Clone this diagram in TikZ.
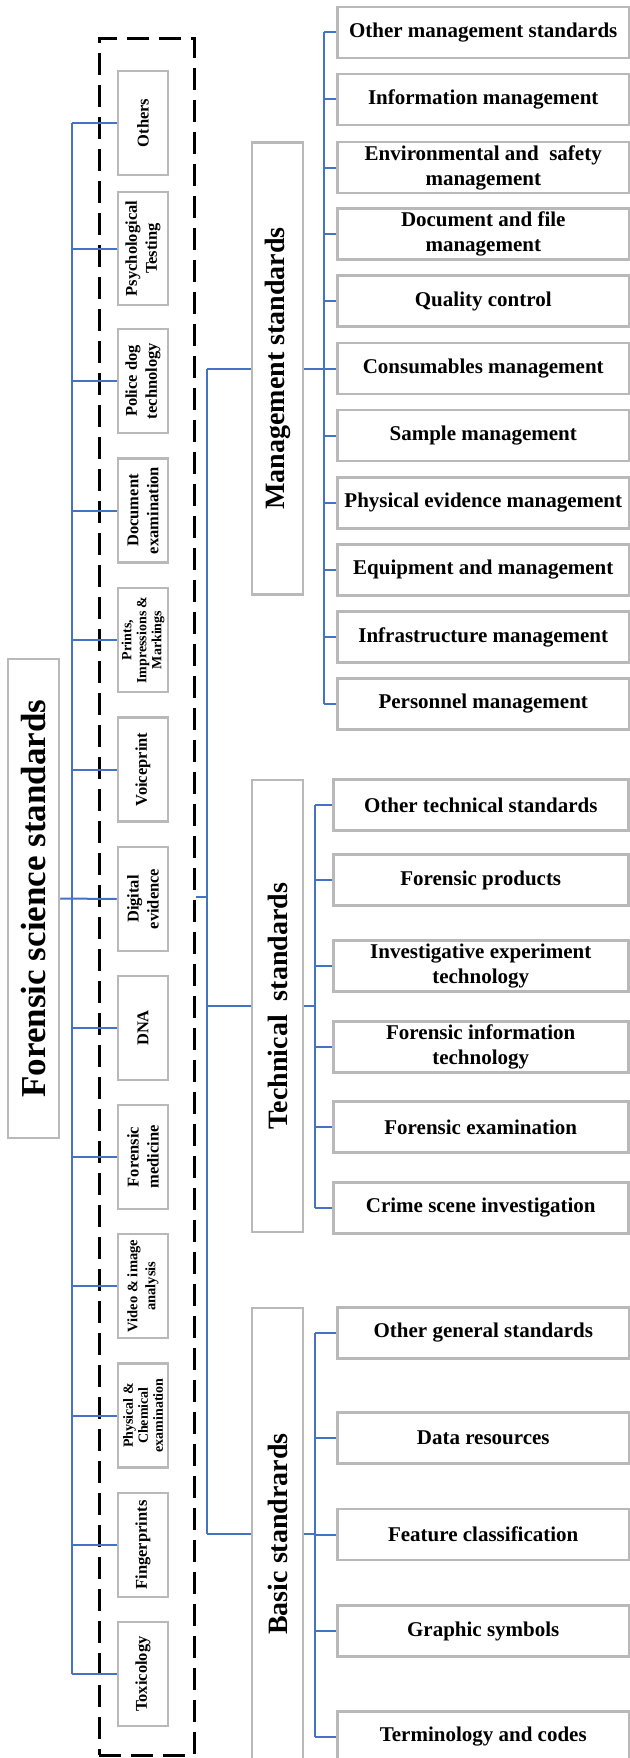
\documentclass[tikz,border=0pt]{standalone}
\usepackage{fontspec}
\setmainfont{Liberation Serif}
\definecolor{linkblue}{RGB}{68,114,196}
\definecolor{boxgray}{RGB}{185,185,185}
\begin{document}
\begin{tikzpicture}[x=1pt,y=-1pt,
  box/.style={draw=boxgray, line width=2.5pt, fill=white, inner sep=0pt, align=center},
  vbox/.style={box, rotate=90},
  leftbox/.style={vbox, minimum width=104pt, minimum height=50pt, font=\fontsize{16.5}{20}\selectfont\bfseries},
  smallleft/.style={leftbox, font=\fontsize{14}{15}\selectfont\bfseries},
  midbox/.style={vbox, minimum width=452pt, minimum height=51pt, font=\fontsize{28}{32}\selectfont\bfseries},
  rbox/.style={box, anchor=west, minimum width=292pt, minimum height=51pt, font=\fontsize{21}{25}\selectfont\bfseries},
  tbox/.style={rbox, minimum width=295pt},
  link/.style={draw=linkblue, line width=2pt},
  groupbox/.style={draw=black, line width=3pt, dash pattern=on 22pt off 10pt, inner sep=0pt},
]
\useasboundingbox (0,0) rectangle (629,1758);

% root
\node[vbox, minimum width=479pt, minimum height=51pt, font=\fontsize{35}{40}\selectfont\bfseries] (root) at (33.5,898.5) {Forensic science standards};

% dashed group
\node[groupbox, minimum width=95pt, minimum height=1716pt] (group) at (146.5,897) {};

% left column
\node[leftbox] (others) at (143,123) {Others};
\node[leftbox, minimum width=113pt] (psych) at (143,248.5) {Psychological\\Testing};
\node[leftbox] (police) at (143,381) {Police dog\\technology};
\node[leftbox] (docex) at (143,510.5) {Document\\examination};
\node[smallleft] (prints) at (143,640) {Prints,\\Impressions \&\\Markings};
\node[leftbox] (voice) at (143,769.5) {Voiceprint};
\node[leftbox] (digital) at (143,899) {Digital\\evidence};
\node[leftbox] (dna) at (143,1028) {DNA};
\node[leftbox] (fmed) at (143,1157) {Forensic\\medicine};
\node[leftbox, font=\fontsize{14.5}{18}\selectfont\bfseries] (video) at (143,1286) {Video \& image\\analysis};
\node[smallleft] (physchem) at (143,1415.5) {Physical \&\\Chemical\\examination};
\node[leftbox] (finger) at (143,1545) {Fingerprints};
\node[leftbox] (toxic) at (143,1674) {Toxicology};

\coordinate (lbus) at (72,0);
\draw[link] (others.north -| lbus) -- (toxic.north -| lbus);
\foreach \n in {others,psych,police,docex,prints,voice,fmed,dna,video,physchem,finger,toxic}
  \draw[link] (\n.north -| lbus) -- (\n.north);
\draw[link] (root.south) -- (digital.north);

% middle column
\node[midbox] (mgmt) at (277.5,368.5) {Management standards};
\node[midbox] (tech) at (277.5,1006) {Technical\ \ standards};
\node[midbox] (basic) at (277.5,1534) {Basic standrards};

\coordinate (rbus) at (207,0);
\draw[link] (mgmt.north -| rbus) -- (basic.north -| rbus);
\draw[link] (group.east) -- (group.east -| rbus);
\foreach \n in {mgmt,tech,basic}
  \draw[link] (\n.north -| rbus) -- (\n.north);

% management children
\node[rbox] (m1) at (336,32.5) {Other management standards};
\node[rbox] (m2) at (336,99.5) {Information management};
\node[rbox] (m3) at (336,167.5) {Environmental and\ \ safety\\management};
\node[rbox] (m4) at (336,234) {Document and file\\management};
\node[rbox] (m5) at (336,301) {Quality control};
\node[rbox] (m6) at (336,368.5) {Consumables management};
\node[rbox] (m7) at (336,435.5) {Sample management};
\node[rbox] (m8) at (336,503) {Physical evidence management};
\node[rbox] (m9) at (336,570) {Equipment and management};
\node[rbox] (m10) at (336,637) {Infrastructure management};
\node[rbox] (m11) at (336,704) {Personnel management};

\coordinate (mbus) at (324,0);
\draw[link] (m1.west -| mbus) -- (m11.west -| mbus);
\foreach \n in {m1,m2,m3,m4,m5,m6,m7,m8,m9,m10,m11}
  \draw[link] (\n.west -| mbus) -- (\n.west);
\draw[link] (mgmt.south) -- (mgmt.south -| mbus);

% technical children
\node[tbox] (t1) at (332,805) {Other technical standards};
\node[tbox] (t2) at (332,880) {Forensic products};
\node[tbox] (t3) at (332,966) {Investigative experiment\\technology};
\node[tbox] (t4) at (332,1047) {Forensic information\\technology};
\node[tbox] (t5) at (332,1127) {Forensic examination};
\node[tbox] (t6) at (332,1208) {Crime scene investigation};

\coordinate (tbus) at (315,0);
\draw[link] (t1.west -| tbus) -- (t6.west -| tbus);
\foreach \n in {t1,t2,t3,t4,t5,t6}
  \draw[link] (\n.west -| tbus) -- (\n.west);
\draw[link] (tech.south) -- (tech.south -| tbus);

% basic children
\node[rbox] (b1) at (336,1333) {Other general standards};
\node[rbox] (b2) at (336,1438) {Data resources};
\node[rbox] (b3) at (336,1534.5) {Feature classification};
\node[rbox] (b4) at (336,1631) {Graphic symbols};
\node[rbox] (b5) at (336,1737) {Terminology and codes};

\coordinate (bbus) at (315,0);
\draw[link] (b1.west -| bbus) -- (b5.west -| bbus);
\foreach \n in {b1,b2,b3,b4,b5}
  \draw[link] (\n.west -| bbus) -- (\n.west);
\draw[link] (basic.south) -- (basic.south -| bbus);
\end{tikzpicture}
\end{document}
